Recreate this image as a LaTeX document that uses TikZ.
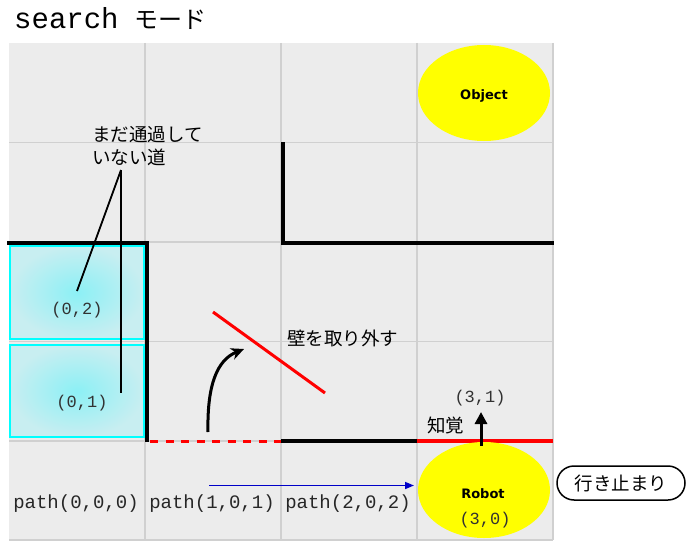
\documentclass[tikz,border=0pt]{standalone}
\usepackage{fontspec}
\setmonofont{Liberation Mono}
\newfontfamily\jpf{Noto Sans CJK JP}
\newfontfamily\dvf{DejaVu Sans}
\usetikzlibrary{arrows.meta,shapes.geometric}
\definecolor{gridbg}{RGB}{236,236,236}
\definecolor{gridln}{RGB}{208,208,208}
\definecolor{cellin}{RGB}{140,240,245}
\definecolor{cellout}{RGB}{200,238,241}
\definecolor{cyanb}{RGB}{0,255,255}
\definecolor{ylw}{RGB}{255,255,0}
\definecolor{redb}{RGB}{255,0,0}
\definecolor{lbl}{RGB}{50,50,50}
\definecolor{pathblue}{RGB}{0,0,200}
\begin{document}
\begin{tikzpicture}[x=1pt,y=-1pt,
  wall/.style={line width=4pt,line cap=rect},
  gridline/.style={draw=gridln,line width=1.2pt},
  cellbox/.style={draw=cyanb,line width=2pt,inner color=cellin,outer color=cellout},
  celllbl/.style={font=\ttfamily\fontsize{17}{20}\selectfont,text=lbl,inner sep=0pt},
  pathlbl/.style={font=\ttfamily\fontsize{19}{22}\selectfont,text=black!85,inner sep=0pt},
  jtext/.style={font=\jpf\fontsize{18.5}{23}\selectfont,inner sep=0pt,align=left},
  blob/.style={ellipse,fill=ylw,minimum width=132pt,minimum height=96pt,inner sep=0pt},
  blobtxt/.style={font=\dvf\bfseries\fontsize{13}{15}\selectfont,inner sep=0pt},
  pointer/.style={line width=1.8pt},
]
\useasboundingbox (0,0) rectangle (699,543);
\fill[white] (0,0) rectangle (699,543);
% title
\node[anchor=base west,inner sep=0pt,font=\ttfamily\fontsize{29}{32}\selectfont] (ttl) at (14,29) {search};
\node[anchor=base west,inner sep=0pt,font=\jpf\fontsize{24}{26}\selectfont] (ttl2) at (134,29) {モード};
% grid
\fill[gridbg] (9,43) rectangle (553,540);
\foreach \x in {145,281,417,553} \draw[gridline] (\x,43) -- (\x,540);
\foreach \y in {142.5,242,341.5,441,540} \draw[gridline] (9,\y) -- (553,\y);
% cyan cells
\path[cellbox] (10,246) rectangle (144,339);
\path[cellbox] (10,345) rectangle (144,437);
% walls
\draw[wall] (9,243) -- (147,243) -- (147,440);
\draw[wall] (283,144) -- (283,243) -- (552,243);
\draw[wall] (283,441) -- (417,441);
\draw[redb,line width=4pt] (417,441) -- (553,441);
\draw[redb,line width=2.5pt,dash pattern=on 8pt off 7.5pt] (150,441.5) -- (281,441.5);
% removed wall
\draw[redb,line width=3pt] (213,312) -- (325,393);
\node[jtext,anchor=west] (rm) at (287,338) {壁を取り外す};
\coordinate (cs) at (208,432);
\coordinate (ce) at (244,349);
\draw[line width=3pt,-{Stealth[length=13pt,width=12pt]}] (cs) .. controls (207,385) and (217,360) .. (ce);
% cell labels
\node[celllbl] (c02) at (77,310) {(0,2)};
\node[celllbl] (c01) at (82,403) {(0,1)};
\node[celllbl] (c31) at (480,398) {(3,1)};
% not yet passed
\node[jtext,anchor=north west] (np) at (92,126) {まだ通過して\\いない道};
\coordinate (npt) at (121,170);
\coordinate (p02) at (77,291);
\coordinate (p01) at (121,393);
\draw[pointer] (npt) -- (p02);
\draw[pointer] (npt) -- (p01);
% object and robot
\node[blob] (obj) at (484,93) {};
\node[blobtxt] (objt) at (484,96) {Object};
\node[blob] (rob) at (484,490) {};
\node[blobtxt] (robt) at (483,494) {Robot};
\node[celllbl] (c30) at (485,520) {(3,0)};
% perception arrow
\coordinate (ps) at (481,446);
\coordinate (pe) at (481,412);
\draw[line width=3pt,-{Triangle[length=12pt,width=12pt]}] (ps) -- (pe);
\node[jtext,anchor=west] (perc) at (427,425) {知覚};
% path labels
\node[pathlbl] (pa0) at (76,504) {path(0,0,0)};
\node[pathlbl] (pa1) at (212,504) {path(1,0,1)};
\node[pathlbl] (pa2) at (348,504) {path(2,0,2)};
\coordinate (bs) at (209,485.5);
\coordinate (be) at (414,485.5);
\draw[pathblue,line width=1.6pt,-{Triangle[length=9pt,width=7pt]}] (bs) -- (be);
% dead end
\node[draw,line width=1.5pt,rounded corners=17pt,minimum width=128pt,minimum height=34pt,inner sep=0pt,font=\jpf\fontsize{18.5}{22}\selectfont] (dead) at (621,483) {行き止まり};
\end{tikzpicture}
\end{document}
